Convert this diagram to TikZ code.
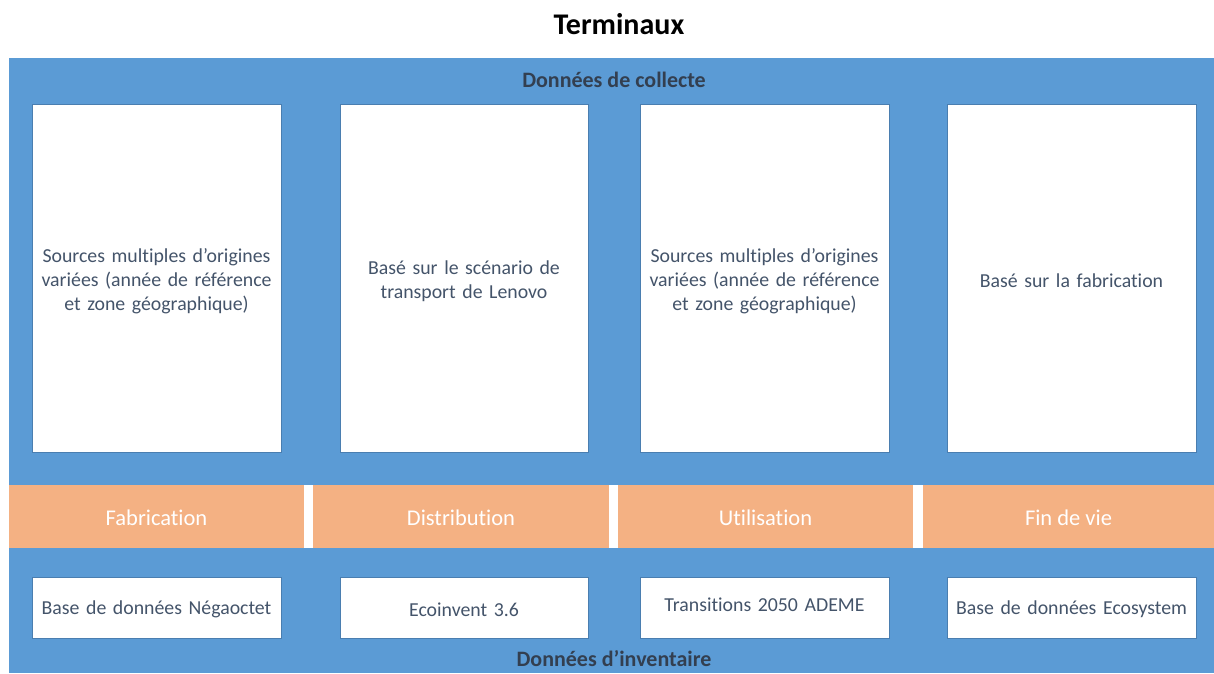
\documentclass[tikz,border=0pt]{standalone}
\usepackage{fontspec}
\setmainfont{Carlito}[Ligatures=NoCommon]
\definecolor{bgblue}{HTML}{5B9BD5}
\definecolor{boxedge}{HTML}{4A7EB0}
\definecolor{orangefill}{HTML}{F4B183}
\definecolor{bodytext}{HTML}{44546A}
\definecolor{headtext}{HTML}{333F50}
\begin{document}
\begin{tikzpicture}[x=1pt,y=-1pt,
  whitebox/.style={draw=boxedge, line width=0.8pt, fill=white},
  boxtext/.style={text=bodytext, font=\fontsize{19.8}{24}\selectfont, align=center, text width=240pt},
  phase/.style={fill=orangefill, draw=none},
  phasetext/.style={text=white, font=\fontsize{22.5}{26}\selectfont},
  heading/.style={text=headtext, font=\bfseries\fontsize{22}{26}\selectfont}]
\useasboundingbox (0,0) rectangle (1214,673);
\fill[white] (0,0) rectangle (1214,673);
\node[font=\bfseries\fontsize{30}{34}\selectfont] (title) at (619,24) {Terminaux};
\fill[bgblue] (9,58) rectangle (1214,673);
\node[heading] (collecte) at (614,80) {Données de collecte};
\node[heading] (inventaire) at (614,659) {Données d’inventaire};
% top boxes
\draw[whitebox] (32,104) rectangle (281,452);
\draw[whitebox] (340,104) rectangle (588,452);
\draw[whitebox] (640,104) rectangle (889,452);
\draw[whitebox] (947,104) rectangle (1196,452);
\node[boxtext] (t1) at (156.5,281) {Sources multiples d’origines variées (année de référence et zone géographique)};
\node[boxtext] (t2) at (464,281) {Basé sur le scénario de transport de Lenovo};
\node[boxtext] (t3) at (764.5,281) {Sources multiples d’origines variées (année de référence et zone géographique)};
\node[boxtext] (t4) at (1071.5,281) {Basé sur la fabrication};
% orange band
\fill[white] (9,485) rectangle (1214,548);
\fill[phase] (9,485) rectangle (304,548);
\fill[phase] (313,485) rectangle (609,548);
\fill[phase] (618,485) rectangle (913,548);
\fill[phase] (923,485) rectangle (1214,548);
\node[phasetext] (p1) at (156.5,518) {Fabrication};
\node[phasetext] (p2) at (461,518) {Distribution};
\node[phasetext] (p3) at (765.5,518) {Utilisation};
\node[phasetext] (p4) at (1068.5,518) {Fin de vie};
% bottom boxes
\draw[whitebox] (32,577) rectangle (281,638);
\draw[whitebox] (340,577) rectangle (588,638);
\draw[whitebox] (640,577) rectangle (889,638);
\draw[whitebox] (947,577) rectangle (1196,638);
\node[boxtext] (b1) at (156.5,609.5) {Base de données Négaoctet};
\node[boxtext] (b2) at (464,609.5) {Ecoinvent 3.6};
\node[boxtext] (b3) at (764.5,604.5) {Transitions 2050 ADEME};
\node[boxtext] (b4) at (1071.5,609.5) {Base de données Ecosystem};
\end{tikzpicture}
\end{document}
